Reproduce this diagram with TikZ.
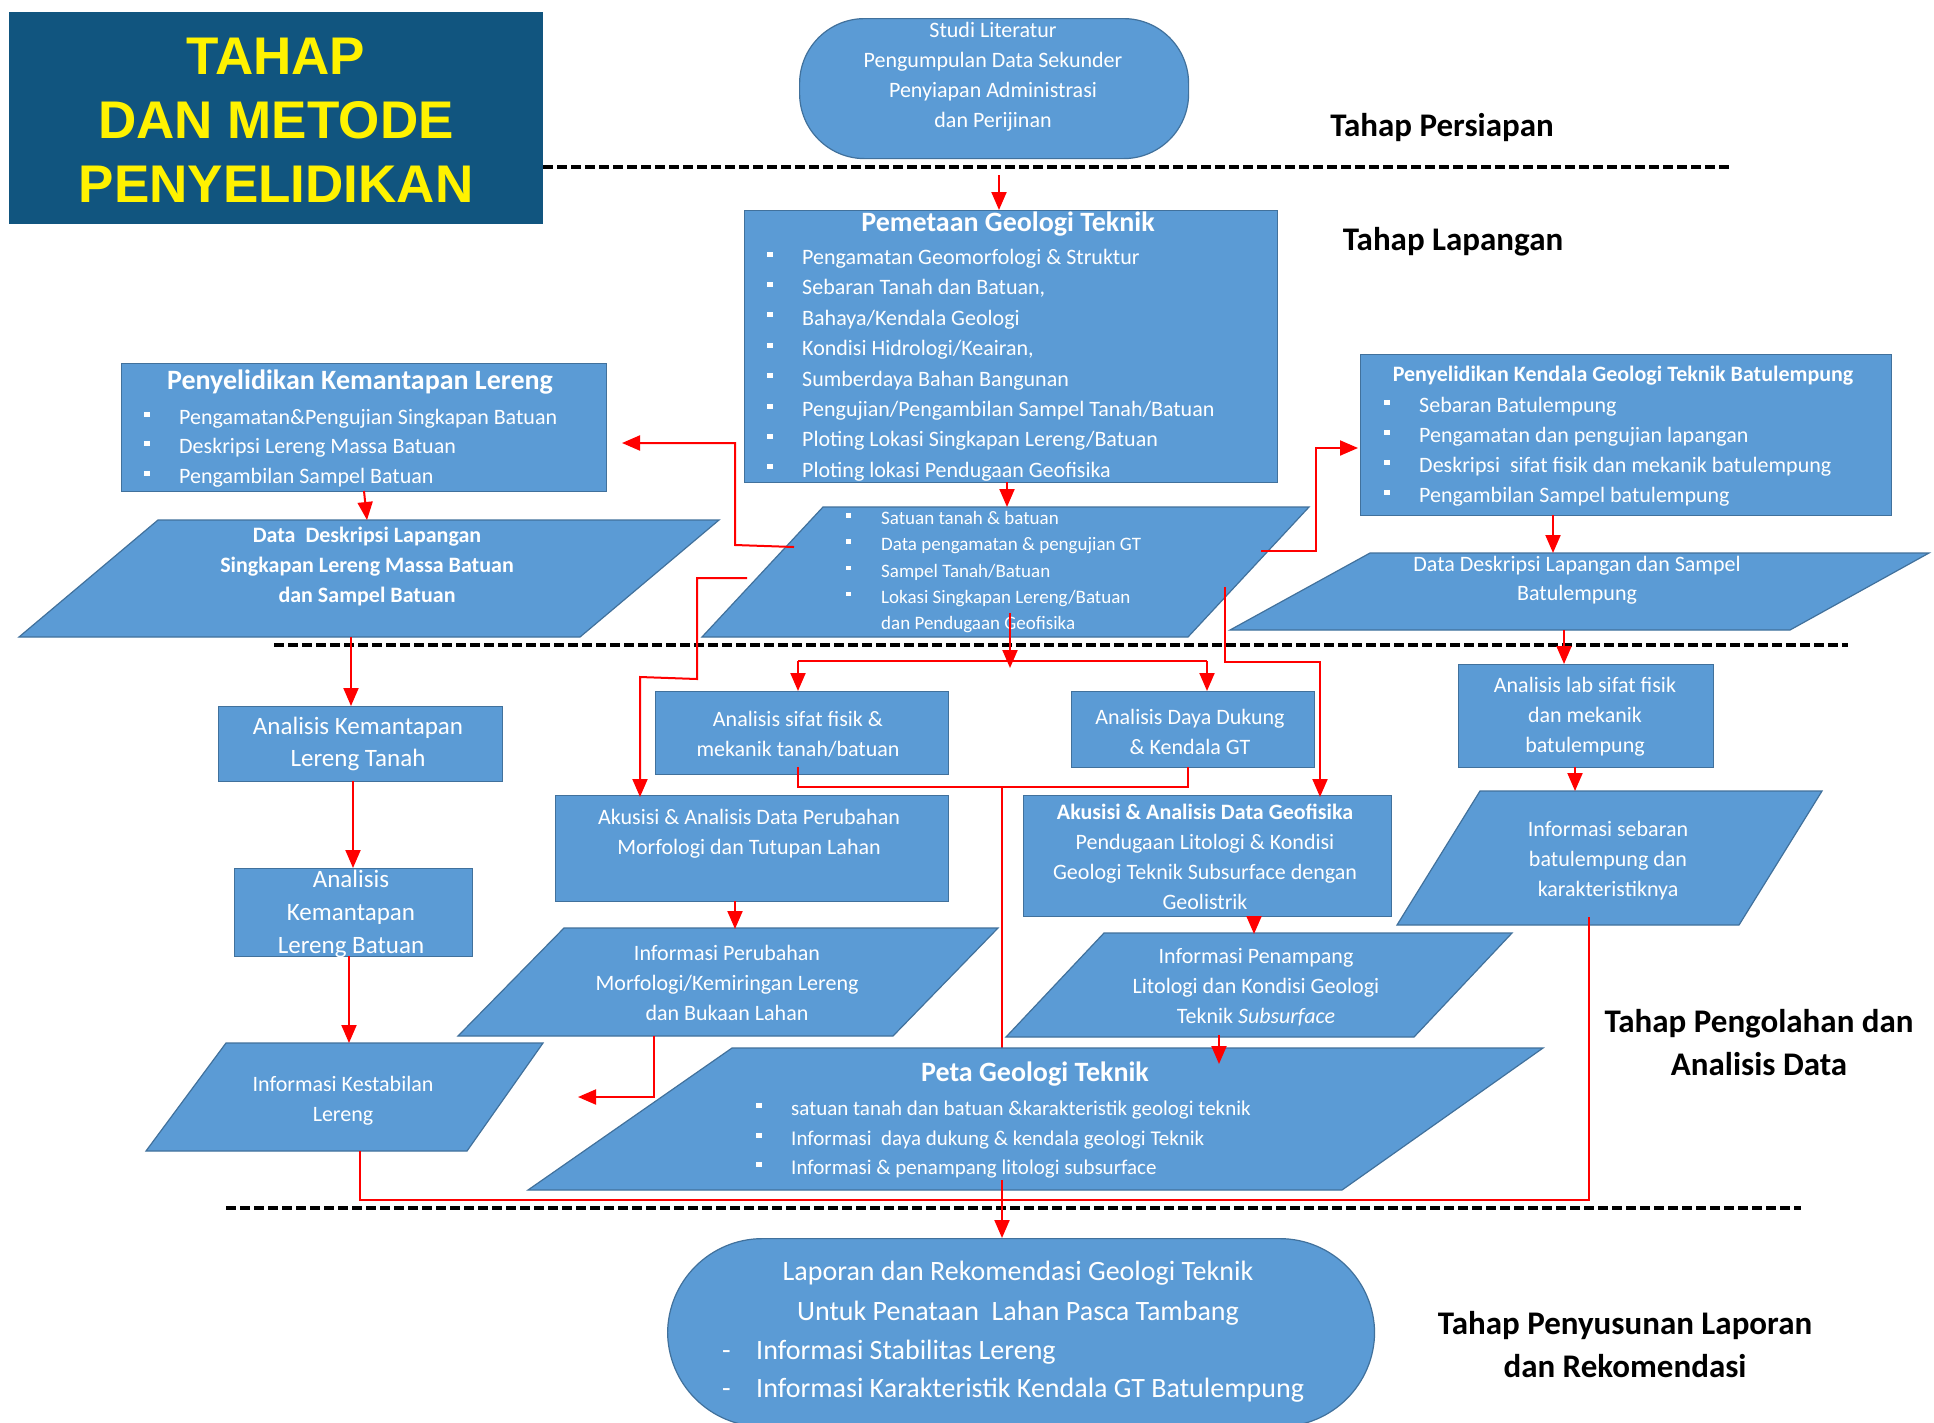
\documentclass[tikz,border=0pt]{standalone}
\usepackage{fontspec}
\setmainfont{Carlito}
\newfontfamily\headfont{Liberation Sans}
\usetikzlibrary{arrows.meta}
\definecolor{boxblue}{HTML}{5B9BD5}
\definecolor{boxedge}{HTML}{41719C}
\definecolor{titleblue}{HTML}{11557F}
\newcommand{\dotitem}{\makebox[35pt][l]{\raisebox{0.36em}{\rule{0.27em}{0.23em}}}}
\newcommand{\dashitem}{\makebox[34pt][l]{-}}

\begin{document}
\begin{tikzpicture}[x=1pt,y=-1pt,
    box/.style={fill=boxblue,draw=boxedge,line width=1.2pt,inner sep=0pt},
    txt/.style={text=white,align=center,inner sep=0pt,font=\fontsize{22}{30}\selectfont},
    lst/.style={text=white,align=left,inner sep=0pt,anchor=north west},
    hd/.style={text=white,inner sep=0pt,font=\bfseries\fontsize{28}{34}\selectfont},
    arr/.style={red,line width=2pt,-{Triangle[length=18pt,width=15pt]}},
    lin/.style={red,line width=2pt},
    sep/.style={line width=4pt,dash pattern=on 10pt off 4pt},
    stage/.style={align=center,inner sep=0pt,font=\bfseries\fontsize{33}{43}\selectfont}]

  \fill[white] (0,0) rectangle (1934,1422);
  \useasboundingbox (0,0) rectangle (1934,1422);

  % judul
  \node[fill=titleblue,inner sep=0pt,minimum width=534pt,minimum height=212pt,anchor=north west] (judulbox) at (9,12) {};
  \node[text=yellow,align=center,inner sep=0pt,font=\headfont\bfseries\fontsize{53}{64}\selectfont] (judul) at (276,120) {TAHAP\\DAN METODE\\PENYELIDIKAN};

  % garis batas tahap
  \draw[sep] (543,167) -- (1731,167);
  \draw[sep] (274,645) -- (1848,645);
  \draw[sep] (226,1208) -- (1801,1208);

  % label tahap
  \node[stage] (persiapan) at (1442,128) {Tahap Persiapan};
  \node[stage] (lapangan) at (1453,242) {Tahap Lapangan};
  \node[stage] (pengolahan) at (1759,1043) {Tahap Pengolahan dan\\Analisis Data};
  \node[stage] (penyusunan) at (1625,1345) {Tahap Penyusunan Laporan\\dan Rekomendasi};

  % tahap persiapan
  \node[box,rounded corners=65pt,minimum width=389pt,minimum height=140pt,anchor=north west] (studi) at (799,18) {};
  \node[txt] (studitxt) at (993,77) {Studi Literatur\\Pengumpulan Data Sekunder\\Penyiapan Administrasi\\dan Perijinan};

  % tahap lapangan
  \node[box,minimum width=533pt,minimum height=272pt,anchor=north west] (pemetaan) at (744,210) {};
  \node[hd] (pemetaanjudul) at (1008,224) {Pemetaan Geologi Teknik};
  \node[lst,font=\fontsize{22}{30.4}\selectfont] (pemetaanisi) at (767,249) {\dotitem Pengamatan Geomorfologi \& Struktur\\
    \dotitem Sebaran Tanah dan Batuan,\\
    \dotitem Bahaya/Kendala Geologi\\
    \dotitem Kondisi Hidrologi/Keairan,\\
    \dotitem Sumberdaya Bahan Bangunan\\
    \dotitem Pengujian/Pengambilan Sampel Tanah/Batuan\\
    \dotitem Ploting Lokasi Singkapan Lereng/Batuan\\
    \dotitem Ploting lokasi Pendugaan Geofisika};

  \node[box,minimum width=485pt,minimum height=128pt,anchor=north west] (lereng) at (121,363) {};
  \node[hd] (lerengjudul) at (360,382) {Penyelidikan Kemantapan Lereng};
  \node[lst,font=\fontsize{22}{29.5}\selectfont] (lerengisi) at (144,409) {\dotitem Pengamatan\&Pengujian Singkapan Batuan\\
    \dotitem Deskripsi Lereng Massa Batuan\\
    \dotitem Pengambilan Sampel Batuan};

  \node[box,minimum width=531pt,minimum height=161pt,anchor=north west] (kendala) at (1360,354) {};
  \node[hd,font=\bfseries\fontsize{22}{26}\selectfont] (kendalajudul) at (1623,376) {Penyelidikan Kendala Geologi Teknik Batulempung};
  \node[lst,font=\fontsize{22}{30}\selectfont] (kendalaisi) at (1384,397) {\dotitem Sebaran Batulempung\\
    \dotitem Pengamatan dan pengujian lapangan\\
    \dotitem Deskripsi\ \ sifat fisik dan mekanik batulempung\\
    \dotitem Pengambilan Sampel batulempung};

  \draw[box] (158,520) -- (719,520) -- (580,637) -- (19,637) -- cycle;
  \node[txt,font=\bfseries\fontsize{22}{30}\selectfont] (datalereng) at (367,566) {Data\ \ Deskripsi Lapangan\\Singkapan Lereng Massa Batuan\\dan Sampel Batuan};

  \draw[box] (823,507) -- (1309,507) -- (1188,637) -- (702,637) -- cycle;
  \node[lst,font=\fontsize{19}{26.3}\selectfont] (datalapangan) at (846,511) {\dotitem Satuan tanah \& batuan\\
    \dotitem Data pengamatan \& pengujian GT\\
    \dotitem Sampel Tanah/Batuan\\
    \dotitem Lokasi Singkapan Lereng/Batuan\\
    \makebox[35pt]{}dan Pendugaan Geofisika};

  \draw[box] (1370,553) -- (1929,553) -- (1790,630) -- (1230,630) -- cycle;
  \node[txt,font=\fontsize{22}{29}\selectfont] (databatulempung) at (1577,580) {Data Deskripsi Lapangan dan Sampel\\Batulempung};

  % tahap pengolahan dan analisis data
  \node[box,minimum width=284pt,minimum height=75pt,anchor=north west] (tanah) at (218,706) {};
  \node[txt,font=\fontsize{25}{32}\selectfont] (tanahtxt) at (358,744) {Analisis Kemantapan\\Lereng Tanah};

  \node[box,minimum width=238pt,minimum height=88pt,anchor=north west] (batuan) at (234,868) {};
  \node[txt,font=\fontsize{25}{33}\selectfont] (batuantxt) at (351,914) {Analisis\\Kemantapan\\Lereng Batuan};

  \node[box,minimum width=293pt,minimum height=83pt,anchor=north west] (sifat) at (655,691) {};
  \node[txt] (sifattxt) at (798,734) {Analisis sifat fisik \&\\mekanik tanah/batuan};

  \node[box,minimum width=243pt,minimum height=76pt,anchor=north west] (daya) at (1071,691) {};
  \node[txt] (dayatxt) at (1190,732) {Analisis Daya Dukung\\\& Kendala GT};

  \node[box,minimum width=255pt,minimum height=103pt,anchor=north west] (lab) at (1458,664) {};
  \node[txt] (labtxt) at (1585,717) {Analisis lab sifat fisik\\dan mekanik\\batulempung};

  \node[box,minimum width=393pt,minimum height=106pt,anchor=north west] (morfo) at (555,795) {};
  \node[txt] (morfotxt) at (749,834) {Akusisi \& Analisis Data Perubahan\\Morfologi dan Tutupan Lahan};

  \node[box,minimum width=368pt,minimum height=121pt,anchor=north west] (geofisika) at (1023,795) {};
  \node[txt] (geofisikatxt) at (1205,857) {\textbf{Akusisi \& Analisis Data Geofisika}\\Pendugaan Litologi \& Kondisi\\Geologi Teknik Subsurface dengan\\Geolistrik};

  \draw[box] (1480,791) -- (1822,791) -- (1739,925) -- (1397,925) -- cycle;
  \node[txt] (sebaran) at (1608,861) {Informasi sebaran\\batulempung dan\\karakteristiknya};

  \draw[box] (564,928) -- (998,928) -- (893,1036) -- (458,1036) -- cycle;
  \node[txt] (perubahan) at (727,983) {Informasi Perubahan\\Morfologi/Kemiringan Lereng\\dan Bukaan Lahan};

  \draw[box] (1104,933) -- (1512,933) -- (1414,1037) -- (1006,1037) -- cycle;
  \node[txt] (penampang) at (1256,987) {Informasi Penampang\\Litologi dan Kondisi Geologi\\Teknik \textit{Subsurface}};

  \draw[box] (226,1043) -- (543,1043) -- (467,1151) -- (146,1151) -- cycle;
  \node[txt] (kestabilan) at (343,1101) {Informasi Kestabilan\\Lereng};

  % konektor
  \coordinate (k1) at (999,175);
  \draw[arr] (k1) -- (k1 |- pemetaan.north);
  \coordinate (k2) at (1007,482);
  \coordinate (k2e) at (1007,507);
  \draw[arr] (k2) -- (k2e);
  \coordinate (k3) at (364,491);
  \coordinate (k3e) at (367,520);
  \draw[arr] (k3) -- (k3e);
  \coordinate (k4) at (794,547);
  \coordinate (k4e) at (622,443);
  \draw[arr] (k4) -- (735,545) -- (735,443) -- (k4e);
  \coordinate (k5) at (1261,551);
  \coordinate (k5e) at (1358,448);
  \draw[arr] (k5) -- (1316,551) -- (1316,448) -- (k5e);
  \coordinate (k6) at (1553,515);
  \coordinate (k6e) at (1553,553);
  \draw[arr] (k6) -- (k6e);
  \coordinate (k7) at (1564,630);
  \draw[arr] (k7) -- (k7 |- lab.north);
  \coordinate (k8) at (1575,767);
  \coordinate (k8e) at (1575,791);
  \draw[arr] (k8) -- (k8e);
  \coordinate (k9) at (351,637);
  \draw[arr] (k9) -- (k9 |- tanah.north);
  \coordinate (k10) at (353,781);
  \draw[arr] (k10) -- (k10 |- batuan.north);
  \coordinate (k11) at (349,956);
  \coordinate (k11e) at (349,1043);
  \draw[arr] (k11) -- (k11e);
  \coordinate (k12) at (1010,613);
  \coordinate (k12e) at (1010,668);
  \draw[arr] (k12) -- (k12e);
  \coordinate (cabangkiri) at (798,661);
  \coordinate (cabangkanan) at (1207,661);
  \draw[lin] (cabangkiri) -- (cabangkanan);
  \draw[arr] (cabangkiri) -- (cabangkiri |- sifat.north);
  \draw[arr] (cabangkanan) -- (cabangkanan |- daya.north);
  \coordinate (k13) at (747,578);
  \draw[arr] (k13) -- (697,578) -- (697,679) -- (640,677) -- (640,797);
  \coordinate (k14) at (1225,587);
  \draw[arr] (k14) -- (1225,662) -- (1320,662) -- (1320,797);
  \coordinate (gabung) at (1002,787);
  \draw[lin] (798,767) -- (798,787) -- (1188,787) -- (1188,767);
  \draw[lin] (gabung) -- (1002,1048);
  \coordinate (k16) at (735,901);
  \coordinate (k16e) at (735,929);
  \draw[arr] (k16) -- (k16e);
  \coordinate (k17) at (1254,916);
  \coordinate (k17e) at (1254,934);
  \draw[arr] (k17) -- (k17e);

  % peta geologi teknik
  \draw[box] (732,1048) -- (1543,1048) -- (1342,1190) -- (528,1190) -- cycle;
  \node[hd] (petajudul) at (1035,1074) {Peta Geologi Teknik};
  \node[lst,font=\fontsize{21}{29.5}\selectfont] (petaisi) at (756,1101) {\dotitem satuan tanah dan batuan \&karakteristik geologi teknik\\
    \dotitem Informasi\ \ daya dukung \& kendala geologi Teknik\\
    \dotitem Informasi \& penampang litologi subsurface};

  \coordinate (k18) at (1219,1035);
  \coordinate (k18e) at (1219,1064);
  \draw[arr] (k18) -- (k18e);
  \coordinate (k19) at (654,1036);
  \coordinate (k19e) at (578,1097);
  \draw[arr] (k19) -- (654,1097) -- (k19e);
  \coordinate (k20) at (360,1151);
  \coordinate (k20e) at (1589,917);
  \draw[lin] (k20) -- (360,1200) -- (1589,1200) -- (k20e);

  % tahap penyusunan laporan
  \node[box,rounded corners=95pt,minimum width=707pt,minimum height=188pt,anchor=north west] (laporan) at (667,1238) {};
  \coordinate (k21) at (1002,1180);
  \draw[arr] (k21) -- (k21 |- laporan.north);
  \node[txt,font=\fontsize{28}{40}\selectfont] (laporanjudul) at (1018,1293) {Laporan dan Rekomendasi Geologi Teknik\\Untuk Penataan\ \ Lahan Pasca Tambang};
  \node[lst,font=\fontsize{28}{37.5}\selectfont] (laporanisi) at (722,1340) {\dashitem Informasi Stabilitas Lereng\\
    \dashitem Informasi Karakteristik Kendala GT Batulempung};
\end{tikzpicture}
\end{document}
